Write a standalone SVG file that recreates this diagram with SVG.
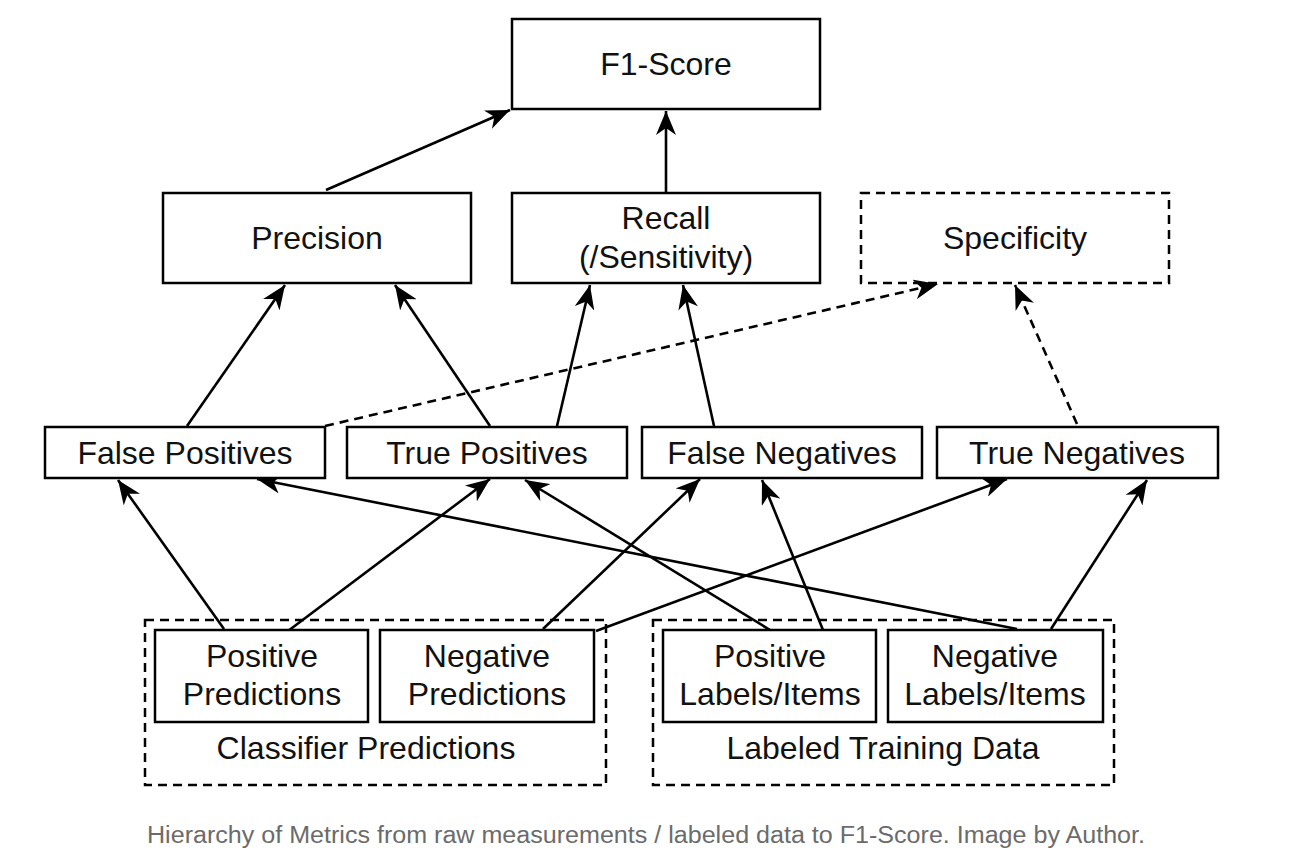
<svg xmlns="http://www.w3.org/2000/svg" width="1293" height="859" viewBox="0 0 1293 859">
<style>
.box{fill:#fff;stroke:#000;stroke-width:2.5}
.dbox{fill:none;stroke:#000;stroke-width:2.5;stroke-dasharray:9 6}
.lbl{font-family:"Liberation Sans",Arial,sans-serif;font-size:32px;fill:#111;text-anchor:middle}
.edge{fill:none;stroke:#000;stroke-width:2.6;marker-end:url(#ah)}
.dedge{fill:none;stroke:#000;stroke-width:2.6;stroke-dasharray:9 6;marker-end:url(#ah)}
.cap{font-family:"Liberation Sans",Arial,sans-serif;font-size:23px;fill:#6b6b6b}
</style>
<defs>
<marker id="ah" markerUnits="userSpaceOnUse" markerWidth="26" markerHeight="20" refX="24" refY="10" orient="auto" viewBox="0 0 26 20">
<path d="M0,0 L24,10 L0,20 L7,10 Z" fill="#000"/>
</marker>
</defs>
<rect width="1293" height="859" fill="#fff"/>
<g id="group-classifier">
<rect class="dbox" x="145" y="620" width="461" height="165"/>
<text class="lbl" x="366" y="759">Classifier Predictions</text>
</g>
<g id="group-labeled">
<rect class="dbox" x="653" y="620" width="461" height="165"/>
<text class="lbl" x="883" y="759">Labeled Training Data</text>
</g>
<g id="connectors">
<line class="edge" x1="326" y1="190" x2="510" y2="110"/>
<line class="edge" x1="666" y1="193" x2="666" y2="111"/>
<line class="edge" x1="187" y1="426" x2="285" y2="285"/>
<line class="edge" x1="490" y1="426" x2="395" y2="285"/>
<line class="edge" x1="557" y1="426" x2="590" y2="285"/>
<line class="edge" x1="714" y1="426" x2="683" y2="285"/>
<line class="dedge" x1="325" y1="426" x2="938" y2="284"/>
<line class="dedge" x1="1077" y1="424" x2="1015" y2="285"/>
<line class="edge" x1="224" y1="629" x2="118" y2="480"/>
<line class="edge" x1="288" y1="631" x2="490" y2="479"/>
<line class="edge" x1="543" y1="629" x2="700" y2="479"/>
<line class="edge" x1="596" y1="631" x2="1007" y2="479"/>
<line class="edge" x1="770" y1="630" x2="525" y2="480"/>
<line class="edge" x1="823" y1="630" x2="762" y2="480"/>
<line class="edge" x1="1017" y1="629" x2="257" y2="479"/>
<line class="edge" x1="1051" y1="629" x2="1147" y2="480"/>
</g>
<g id="f1score">
<rect class="box" x="512" y="19" width="308" height="90"/>
<text class="lbl" x="666" y="75">F1-Score</text>
</g>
<g id="precision">
<rect class="box" x="163" y="193" width="308" height="90"/>
<text class="lbl" x="317" y="249">Precision</text>
</g>
<g id="recall">
<rect class="box" x="512" y="193" width="308" height="90"/>
<text class="lbl" x="666" y="229">Recall</text>
<text class="lbl" x="666" y="268">(/Sensitivity)</text>
</g>
<g id="specificity">
<rect class="dbox" x="861" y="193" width="308" height="90"/>
<text class="lbl" x="1015" y="249">Specificity</text>
</g>
<g id="false-positives">
<rect class="box" x="45" y="427" width="280" height="51"/>
<text class="lbl" x="185" y="464">False Positives</text>
</g>
<g id="true-positives">
<rect class="box" x="347" y="427" width="280" height="51"/>
<text class="lbl" x="487" y="464">True Positives</text>
</g>
<g id="false-negatives">
<rect class="box" x="642" y="427" width="280" height="51"/>
<text class="lbl" x="782" y="464">False Negatives</text>
</g>
<g id="true-negatives">
<rect class="box" x="937" y="427" width="281" height="51"/>
<text class="lbl" x="1077" y="464">True Negatives</text>
</g>
<g id="positive-predictions">
<rect class="box" x="155" y="630" width="213" height="92"/>
<text class="lbl" x="262" y="667">Positive</text>
<text class="lbl" x="262" y="705">Predictions</text>
</g>
<g id="negative-predictions">
<rect class="box" x="380" y="630" width="214" height="92"/>
<text class="lbl" x="487" y="667">Negative</text>
<text class="lbl" x="487" y="705">Predictions</text>
</g>
<g id="positive-labels">
<rect class="box" x="663" y="630" width="213" height="92"/>
<text class="lbl" x="770" y="667">Positive</text>
<text class="lbl" x="770" y="705">Labels/Items</text>
</g>
<g id="negative-labels">
<rect class="box" x="888" y="630" width="215" height="92"/>
<text class="lbl" x="995" y="667">Negative</text>
<text class="lbl" x="995" y="705">Labels/Items</text>
</g>
<text class="cap" x="147" y="843" textLength="998" lengthAdjust="spacingAndGlyphs">Hierarchy of Metrics from raw measurements / labeled data to F1-Score. Image by Author.</text>
</svg>
